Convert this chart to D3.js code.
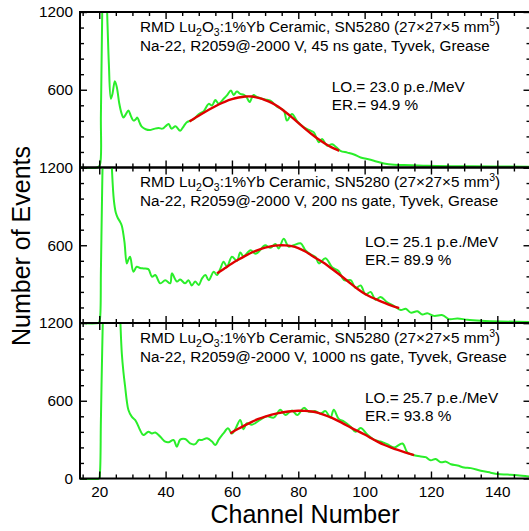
<!DOCTYPE html>
<html><head><meta charset="utf-8">
<script src="https://cdn.jsdelivr.net/npm/d3@7"></script>
<style>
html,body{margin:0;padding:0;background:#fff;}
svg{display:block;font-family:"Liberation Sans",Arial,Helvetica,sans-serif;}
</style></head><body>
<svg id="chart" width="529" height="531"></svg>
<script>
// ---------- data ----------
const gates = ["45", "200", "1000"];
const volumeExp = ["5", "3", "3"];
const lightOutput = ["23.0", "25.1", "25.7"];
const energyRes = ["94.9", "89.9", "93.8"];

const xMajorTicks = [20, 40, 60, 80, 100, 120, 140];
const yMajorTicks = [0, 600, 1200];

// 45 ns gate spectrum
const ch45 = [14, 19.5, 20.2, 20.5, 20.8, 21.1, 21.6, 22.1, 22.5, 22.9, 23.5, 24.0, 24.7, 25.3, 26.0, 26.7, 27.3, 28.0, 28.8, 29.5, 30.3, 31.0, 31.5, 32.1, 32.8, 34.0, 35.3, 36.5, 37.9, 39.0, 40.0, 40.9, 41.8, 43.0, 44.4, 45.5, 46.4, 47.3, 48.5, 49.5, 50.5, 51.5, 53.0, 54.0, 55.0, 56.0, 57.5, 58.5, 59.7, 60.5, 61.5, 62.5, 63.5, 64.5, 65.3, 66.5, 67.5, 68.6, 70.0, 71.6, 73.6, 75.6, 76.6, 78.1, 79.7, 81.7, 83.2, 84.7, 86.2, 87.2, 88.7, 90.2, 92.7, 94.8, 96.8, 98.8, 100.8, 102.8, 105.8, 108.9, 113.9, 118.9, 129, 139, 150];
const cnt45 = [0, 0, 20, 400, 1000, 1400, 1550, 1400, 1100, 800, 530, 570, 665, 620, 500, 420, 385, 410, 440, 400, 362, 372, 385, 350, 315, 295, 289, 298, 305, 300, 318, 335, 300, 318, 284, 320, 349, 360, 372, 400, 420, 435, 491, 478, 520, 492, 530, 556, 594, 560, 586, 568, 562, 540, 505, 560, 545, 535, 525, 516, 470, 440, 362, 413, 355, 310, 290, 270, 195, 220, 168, 180, 129, 115, 100, 77, 65, 52, 31, 21, 18, 13, 10, 8, 5];
const fitCh45 = [47.2, 50, 52, 54, 56, 58, 60, 62, 64, 66, 68, 70, 72, 74, 76, 78, 80, 82, 84, 86, 88, 90, 92.3];
const fit45 = [356, 400, 430, 460, 487, 510, 528, 541, 549, 550, 537, 522, 500, 470, 430, 390, 345, 300, 258, 218, 185, 155, 129];

// 200 ns gate spectrum
const ch200 = [14, 19.8, 20.2, 20.5, 20.8, 21.1, 21.8, 22.8, 23.4, 23.8, 24.4, 25.0, 25.6, 26.3, 26.8, 27.6, 28.3, 28.8, 29.3, 30.3, 31.3, 32.3, 33.3, 34.8, 35.9, 36.9, 38.4, 39.9, 41.4, 41.9, 43.4, 44.4, 45.9, 46.9, 47.9, 48.9, 50.0, 51.0, 52.0, 53.0, 54.5, 55.5, 56.5, 57.5, 58.5, 60.0, 61.5, 62.5, 63.5, 65.6, 67.1, 68.6, 69.4, 70.1, 71.6, 73.1, 74.1, 75.6, 77.1, 78.6, 80.7, 82.2, 83.7, 85.2, 86.2, 88.2, 90.2, 92.2, 93.8, 95.8, 97.3, 98.8, 100.3, 101.8, 103.3, 104.8, 106.8, 108.9, 110.9, 112.4, 113.9, 115.9, 117.4, 118.9, 120.9, 123.5, 125.5, 128, 131, 135, 141, 150];
const cnt200 = [0, 0, 30, 400, 900, 1300, 1700, 1700, 1450, 1200, 950, 850, 810, 780, 750, 626, 460, 490, 511, 396, 434, 425, 421, 416, 357, 370, 306, 330, 306, 383, 320, 335, 306, 330, 289, 320, 294, 345, 370, 330, 396, 370, 420, 472, 435, 511, 480, 544, 515, 562, 535, 565, 590, 600, 580, 610, 575, 650, 590, 600, 615, 560, 530, 510, 460, 500, 430, 400, 330, 330, 270, 290, 220, 240, 180, 200, 160, 130, 100, 110, 80, 90, 65, 75, 55, 60, 30, 35, 25, 18, 12, 8];
const fitCh200 = [55.5, 58, 60, 62, 64, 66, 68, 70, 72, 74, 76, 78, 80, 82, 84, 86, 88, 90, 92, 94, 96, 98, 100, 102, 104, 106, 108, 110.4];
const fit200 = [383, 425, 460, 490, 518, 545, 565, 582, 594, 600, 600, 595, 580, 555, 520, 490, 460, 420, 382, 342, 300, 260, 225, 198, 177, 155, 135, 115];

// 1000 ns gate spectrum
const ch1000 = [14, 19.9, 20.2, 20.5, 20.9, 21.3, 22, 23, 24, 25, 25.8, 26.3, 26.8, 27.3, 27.8, 28.3, 28.8, 29.8, 30.8, 31.5, 32.3, 33.3, 34.8, 35.9, 36.9, 38.4, 39.9, 40.9, 42.4, 43.4, 44.4, 45.9, 47.4, 48.9, 50.0, 51.0, 52.5, 54.0, 55.0, 56.0, 57.0, 57.5, 58.8, 60.0, 61.0, 62.5, 63.5, 64.5, 66.0, 68.6, 70.6, 72.6, 74.6, 76.1, 78.1, 79.7, 81.7, 83.2, 85.2, 86.7, 88.2, 89.7, 90.7, 92.2, 93.8, 95.8, 97.3, 98.8, 100.8, 102.8, 104.8, 106.8, 108.9, 111.4, 112.9, 114.9, 116.9, 118.4, 119.9, 121.4, 123, 124.5, 126, 128, 130, 132, 135, 138, 140, 143, 146, 150];
const cnt1000 = [0, 0, 40, 450, 1000, 1400, 1700, 1800, 1800, 1750, 1550, 1250, 967, 820, 710, 600, 529, 477, 452, 420, 374, 335, 361, 348, 355, 322, 284, 280, 297, 245, 300, 305, 271, 265, 297, 297, 310, 285, 258, 300, 335, 350, 387, 348, 380, 452, 380, 426, 415, 455, 480, 470, 530, 490, 525, 490, 545, 515, 520, 500, 520, 470, 530, 460, 440, 400, 360, 390, 340, 300, 285, 265, 240, 270, 200, 180, 170, 165, 140, 150, 125, 130, 110, 100, 85, 80, 60, 45, 35, 30, 25, 15];
const fitCh1000 = [59.5, 62, 64, 66, 68, 70, 72, 74, 76, 78, 80, 82, 84, 86, 88, 90, 92, 94, 96, 98, 100, 102, 104, 106, 108, 110, 112, 114.9];
const fit1000 = [348, 385, 412, 438, 460, 478, 493, 505, 514, 520, 523, 523, 518, 508, 490, 470, 445, 418, 390, 365, 340, 310, 282, 258, 238, 220, 203, 181];

// ---------- assemble ----------
const spectra = [
  {ch: ch45, cnt: cnt45, fch: fitCh45, fit: fit45},
  {ch: ch200, cnt: cnt200, fch: fitCh200, fit: fit200},
  {ch: ch1000, cnt: cnt1000, fch: fitCh1000, fit: fit1000}
];
const loX = [331.7, 365, 365];

const svg = d3.select("#chart");
const L = 80, R = 530.5, T = 12, PH = 155.5;
const FS = 15.3;

const x = d3.scaleLinear().domain([14.2, 150]).range([L, R]);
const xMinor = d3.range(15, 151, 5).filter(v => v % 20 !== 0);
const yMinor = d3.range(0, 1201, 120).filter(v => v % 600 !== 0);

const defs = svg.append("defs");

spectra.forEach((s, i) => {
  const top = T + i * PH, bot = top + PH;
  const y = d3.scaleLinear().domain([0, 1200]).range([bot, top]);
  const g = svg.append("g");

  defs.append("clipPath").attr("id", "clip" + i)
    .append("rect").attr("x", L).attr("y", top).attr("width", R - L).attr("height", PH + 1.5);

  const pts = s.ch.map((c, k) => [c, s.cnt[k]]);
  const fpts = s.fch.map((c, k) => [c, s.fit[k]]);
  const dataLine = d3.line().x(d => x(d[0])).y(d => y(Math.max(0, d[1]))).curve(d3.curveCatmullRom.alpha(0.5));
  const fitLine = d3.line().x(d => x(d[0])).y(d => y(d[1])).curve(d3.curveBasis);

  const plot = g.append("g").attr("clip-path", `url(#clip${i})`);
  plot.append("path").datum(pts).attr("d", dataLine)
    .attr("fill", "none").attr("stroke", "#2aee2a").attr("stroke-width", 2).attr("stroke-linejoin", "round");
  plot.append("path").datum(fpts).attr("d", fitLine)
    .attr("fill", "none").attr("stroke", "#e00000").attr("stroke-width", 2.4);

  // axes (ticks inward)
  const mk = (axis, tr, vals, size, labels) => {
    const a = g.append("g").attr("transform", tr)
      .call(axis.tickValues(vals).tickSizeInner(-size).tickSizeOuter(0)
        .tickPadding(labels ? 8 : 0).tickFormat(labels ? d3.format("d") : ""));
    a.select(".domain").remove();
    a.selectAll("line").attr("stroke", "#000").attr("stroke-width", 1.4);
    a.selectAll("text").attr("fill", "#000").style("font-size", FS + "px").style("font-family", "inherit");
    return a;
  };
  const isLast = i === spectra.length - 1;
  mk(d3.axisBottom(x), `translate(0,${bot})`, xMajorTicks, 7, isLast);
  mk(d3.axisBottom(x), `translate(0,${bot})`, xMinor, 4, false);
  mk(d3.axisTop(x), `translate(0,${top})`, xMajorTicks, 7, false);
  mk(d3.axisTop(x), `translate(0,${top})`, xMinor, 4, false);
  const yl = mk(d3.axisLeft(y), `translate(${L},0)`, isLast ? yMajorTicks : yMajorTicks.slice(1), 7, true);
  yl.selectAll("text").attr("x", -7);
  mk(d3.axisLeft(y), `translate(${L},0)`, yMinor, 4, false);
  mk(d3.axisRight(y), `translate(${R},0)`, yMajorTicks, 7, false);
  mk(d3.axisRight(y), `translate(${R},0)`, yMinor, 4, false);

  // frame
  g.append("rect").attr("x", L).attr("y", top).attr("width", R - L).attr("height", PH)
    .attr("fill", "none").attr("stroke", "#000").attr("stroke-width", 2);

  // annotation text
  const t1 = g.append("text").attr("x", 140).attr("y", top + 19.5).style("font-size", FS + "px");
  t1.append("tspan").text("RMD Lu");
  t1.append("tspan").attr("dy", 4).style("font-size", "10.5px").text("2");
  t1.append("tspan").attr("dy", -4).text("O");
  t1.append("tspan").attr("dy", 4).style("font-size", "10.5px").text("3");
  t1.append("tspan").attr("dy", -4).text(":1%Yb Ceramic, SN5280 (27\u00d727\u00d75 mm");
  t1.append("tspan").attr("dy", -6).style("font-size", "10.5px").text(volumeExp[i]);
  t1.append("tspan").attr("dy", 6).text(")");

  g.append("text").attr("x", 140).attr("y", top + 38.7).style("font-size", FS + "px")
    .text(`Na-22, R2059@-2000 V, ${gates[i]} ns gate, Tyvek, Grease`);
  g.append("text").attr("x", loX[i]).attr("y", top + 79.5).style("font-size", FS + "px")
    .text(`LO.= ${lightOutput[i]} p.e./MeV`);
  g.append("text").attr("x", loX[i]).attr("y", top + 97.5).style("font-size", FS + "px")
    .text(`ER.= ${energyRes[i]} %`);
});

svg.append("text").attr("x", 305).attr("y", 523).attr("text-anchor", "middle")
  .style("font-size", "25px").text("Channel Number");
svg.append("text").attr("transform", "translate(30,246) rotate(-90)").attr("text-anchor", "middle")
  .style("font-size", "25px").text("Number of Events");
</script>
</body></html>
